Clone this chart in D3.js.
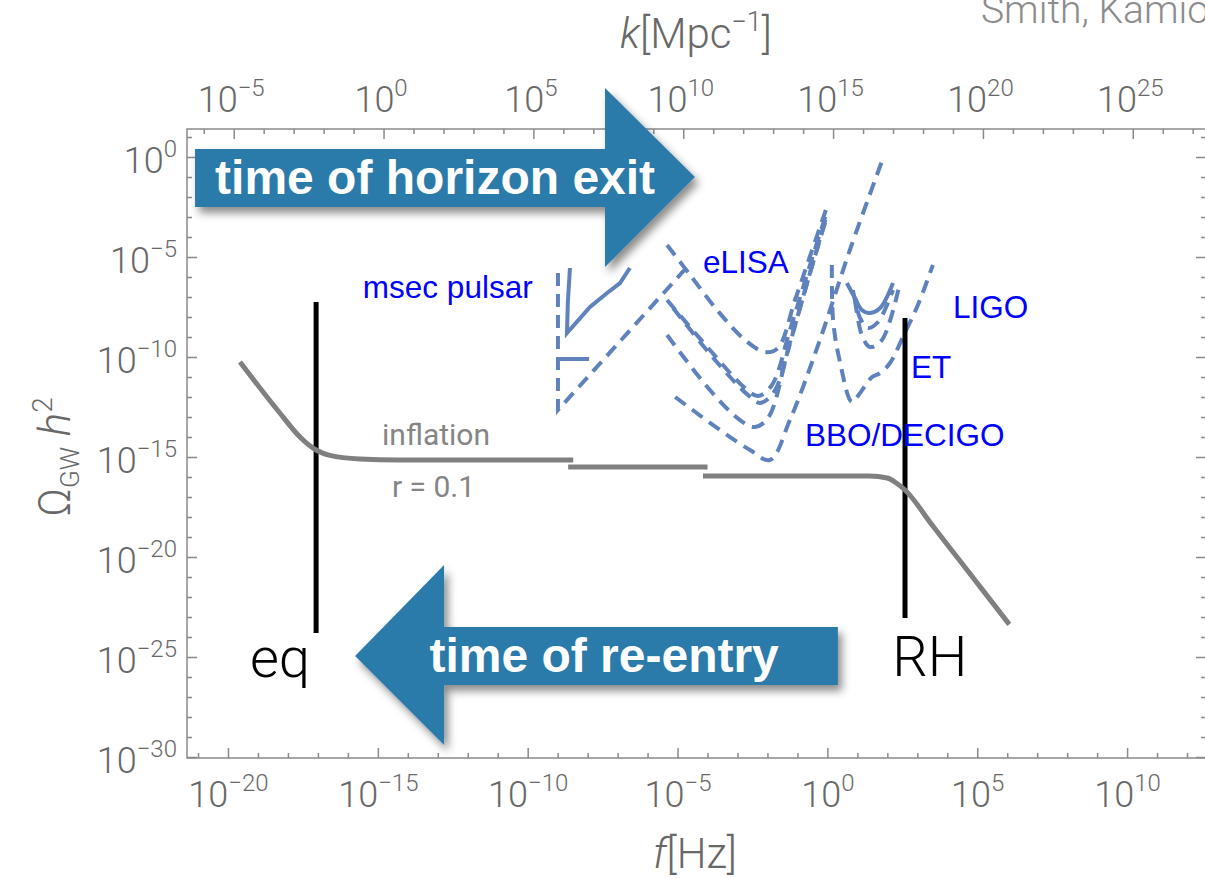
<!DOCTYPE html>
<html>
<head>
<meta charset="utf-8">
<script src="https://cdnjs.cloudflare.com/ajax/libs/d3/7.8.5/d3.min.js"></script>
<style>
  body { margin: 0; background: #fff; }
  svg text { font-family: "Liberation Sans", Arial, Helvetica, sans-serif; }
  svg text.thin { font-family: Roboto, "Liberation Sans", Arial, sans-serif; font-weight: 300; }
  svg text.plain { font-family: Roboto, "Liberation Sans", Arial, sans-serif; font-weight: 400; }
</style>
</head>
<body>
<svg id="chart" width="1205" height="878"></svg>
<script>
// all values are log10 exponents: [log10 f/Hz, log10 Omega_GW h^2]
var fMajor = [-20, -15, -10, -5, 0, 5, 10];
var kMajor = [-5, 0, 5, 10, 15, 20, 25];
var omegaMajor = [-30, -25, -20, -15, -10, -5, 0];

// inflation spectrum, r = 0.1 (three pieces)
var inflationLow = [[-19.6, -10.25], [-18.27, -12.8], [-17.6, -14.0], [-17.06, -14.65], [-16.6, -14.92],
  [-15.6, -15.1], [-14.3, -15.15], [-8.48, -15.15]];
var inflationMid = [[-8.65, -15.5], [-4.0, -15.5]];
var inflationHigh = [[-4.15, -15.95], [1.4, -15.95], [2.0, -16.05], [2.3, -16.3], [2.59, -16.65], [3.5, -18.41],
  [4.5, -20.34], [5.5, -22.27], [6.07, -23.37]];

// sensitivity curves
var ptaDashed = [[-8.99, -5.8], [-8.99, -12.65], [-4.68, -5.5]];
var ptaSolid = [[-8.59, -5.55], [-8.66, -7.25], [-8.69, -8.8], [-7.92, -7.5], [-7.35, -6.8], [-6.92, -6.3], [-6.59, -5.55]];
var ptaLevel = [[-9.02, -10.1], [-7.95, -10.1]];
var elisa = [[-5.35, -4.4], [-4.58, -5.9], [-3.68, -7.65], [-2.75, -9.15], [-2.08, -9.75], [-1.65, -9.55],
  [-1.08, -7.15], [-0.51, -4.65], [-0.05, -2.65]];
var spaceB = [[-5.35, -7.15], [-3.92, -9.65], [-2.75, -11.55], [-2.32, -11.95], [-1.85, -11.4], [-1.25, -8.65],
  [-0.58, -5.4], [-0.05, -2.9]];
var spaceC = [[-5.15, -7.55], [-3.75, -10.15], [-2.65, -11.9], [-2.25, -12.3], [-1.78, -11.75], [-1.18, -8.9],
  [-0.55, -5.65], [-0.05, -3.05]];
var spaceD = [[-5.35, -8.9], [-3.92, -11.65], [-2.92, -13.15], [-2.42, -13.5], [-1.98, -13.05], [-1.31, -9.65],
  [-0.65, -6.15], [-0.05, -3.15]];
var bboDecigo = [[-5.08, -12.0], [-3.58, -13.65], [-2.58, -14.65], [-1.92, -15.15], [-1.25, -13.15], [-0.25, -9.15],
  [0.75, -4.65], [1.86, -0.05]];
var et = [[0.15, -5.4], [0.19, -8.15], [0.42, -10.25], [0.82, -12.25], [1.09, -11.8], [1.49, -11.0], [1.76, -10.8],
  [2.09, -10.3], [2.52, -9.0], [3.02, -7.4], [3.52, -5.4]];
var ligoSolid = [[0.65, -6.3], [0.92, -7.05], [1.15, -7.65], [1.42, -7.8], [1.76, -7.55], [2.19, -6.3]];
var ligoA = [[0.85, -6.65], [1.09, -8.05], [1.35, -8.55], [1.69, -8.25], [2.19, -6.65]];
var ligoB = [[0.92, -7.15], [1.15, -8.9], [1.42, -9.5], [1.82, -9.15], [2.42, -6.3]];

// horizon crossing at matter-radiation equality and at reheating
var eqLine = [[-17.06, -7.25], [-17.06, -23.8]];
var rhLine = [[2.59, -8.05], [2.59, -23.05]];

// big arrows, outlines in the same log units
var exitArrow = [[-21.1, 0.4], [-7.42, 0.4], [-7.42, 3.45], [-4.42, -1.0], [-7.42, -5.5], [-7.42, -2.5], [-21.1, -2.5]];
var entryArrow = [[0.35, -23.5], [-12.79, -23.5], [-12.79, -20.4], [-15.76, -24.95], [-12.79, -29.4], [-12.79, -26.4], [0.35, -26.4]];

var blueNotes = [[-15.5, -7.05, "msec pulsar"], [-4.15, -5.8, "eLISA"], [4.19, -8.05, "LIGO"],
  [2.79, -11.05, "ET"], [-0.75, -14.45, "BBO/DECIGO"]];
var grayNotes = [[-14.86, -14.4, "inflation"], [-14.53, -17.0, "r = 0.1"]];
var blackNotes = [[-19.27, -26.0, "eq"], [2.16, -25.95, "RH"]];
var arrowNotes = [[-13.09, -1.85, "time of horizon exit"], [-7.45, -25.75, "time of re-entry"]];

var kShift = 14.81; // log10 k[Mpc^-1] - log10 f[Hz]

var svg = d3.select("#chart");
var plotL = 187, plotR = 1206, plotT = 129, plotB = 758;
var axisGray = "#8a8a8a", labelGray = "#686868";

var x = d3.scaleLinear().domain([-21.368, 12.633]).range([plotL, plotR]);
var y = d3.scaleLinear().domain([-30.05, 1.4]).range([plotB, plotT]);
var xk = d3.scaleLinear().domain(x.domain().map(function(d) { return d + kShift; })).range([plotL, plotR]);

var defs = svg.append("defs");
defs.append("filter").attr("id", "shadow").attr("x", "-10%").attr("y", "-10%").attr("width", "130%").attr("height", "140%")
  .append("feDropShadow").attr("dx", 4).attr("dy", 6).attr("stdDeviation", 4)
  .attr("flood-color", "#000").attr("flood-opacity", 0.45);

function expText(d) { return d < 0 ? "\u2212" + Math.abs(d) : String(d); }
function range(a, b) { var r = []; for (var i = a; i <= b; i++) r.push(i); return r; }

function ticks(make, scale, majors, pos) {
  var lo = Math.ceil(scale.domain()[0]), hi = Math.floor(scale.domain()[1]);
  var minors = range(lo, hi).filter(function(d) { return majors.indexOf(d) < 0; });
  var gMin = svg.append("g").attr("transform", pos)
    .call(make(scale).tickValues(minors).tickSize(-5).tickFormat(""));
  var gMaj = svg.append("g").attr("transform", pos)
    .call(make(scale).tickValues(majors).tickSize(-10).tickFormat(""));
  [gMin, gMaj].forEach(function(g) {
    g.select(".domain").remove();
    g.selectAll("line").attr("stroke", axisGray).attr("stroke-width", 1.5);
  });
  return gMaj;
}

function powerLabels(g, ax, ay, anchor) {
  g.selectAll(".tick text").each(function(d) {
    var t = d3.select(this);
    t.text(null).attr("class", "thin").attr("x", ax).attr("y", ay).attr("dy", null)
      .attr("text-anchor", anchor).attr("fill", labelGray).attr("font-size", 36);
    t.append("tspan").text("10");
    t.append("tspan").attr("dy", -16).attr("font-size", 24).text(expText(d));
  });
}

// frame
svg.append("rect").attr("x", plotL).attr("y", plotT).attr("width", plotR - plotL).attr("height", plotB - plotT)
  .attr("fill", "none").attr("stroke", axisGray).attr("stroke-width", 1.5);

var gB = ticks(d3.axisBottom, x, fMajor, "translate(0," + plotB + ")");
powerLabels(gB, 0, 49, "middle");
var gT = ticks(d3.axisTop, xk, kMajor, "translate(0," + plotT + ")");
powerLabels(gT, -3, -17, "middle");
var gL = ticks(d3.axisLeft, y, omegaMajor, "translate(" + plotL + ",0)");
powerLabels(gL, -10, 15, "end");
ticks(d3.axisRight, y, omegaMajor, "translate(" + plotR + ",0)");

// axis titles
var tt = svg.append("text").attr("class", "thin").attr("x", 696).attr("y", 48).attr("text-anchor", "middle")
  .attr("fill", labelGray).attr("font-size", 42);
tt.append("tspan").attr("font-style", "italic").text("k");
tt.append("tspan").text("[Mpc");
tt.append("tspan").attr("dy", -17).attr("font-size", 27).text("\u22121");
tt.append("tspan").attr("dy", 17).text("]");

var bt = svg.append("text").attr("class", "thin").attr("x", 695).attr("y", 868).attr("text-anchor", "middle")
  .attr("fill", labelGray).attr("font-size", 42);
bt.append("tspan").attr("font-style", "italic").text("f");
bt.append("tspan").text("[Hz]");

var yt = svg.append("text").attr("class", "thin").attr("transform", "translate(70,457) rotate(-90)").attr("text-anchor", "middle")
  .attr("fill", labelGray).attr("font-size", 44);
yt.append("tspan").text("\u03a9");
yt.append("tspan").attr("dy", 9).attr("font-size", 26).text("GW");
yt.append("tspan").attr("dy", -9).text(" ");
yt.append("tspan").attr("font-style", "italic").text("h");
yt.append("tspan").attr("dy", -18).attr("font-size", 28).text("2");

svg.append("text").attr("class", "thin").attr("x", 981).attr("y", 23).attr("fill", "#8c8c8c")
  .attr("font-size", 39).text("Smith, Kamionkowski");

// curves
var straight = d3.line().x(function(d) { return x(d[0]); }).y(function(d) { return y(d[1]); });
var smooth = d3.line().x(function(d) { return x(d[0]); }).y(function(d) { return y(d[1]); }).curve(d3.curveCatmullRom.alpha(0.5));
var monotone = d3.line().x(function(d) { return x(d[0]); }).y(function(d) { return y(d[1]); }).curve(d3.curveMonotoneX);

var sensBlue = "#5f82bd";
[elisa, spaceB, spaceC, spaceD, bboDecigo, et, ligoA, ligoB].forEach(function(c) {
  svg.append("path").attr("d", smooth(c)).attr("fill", "none").attr("stroke", sensBlue)
    .attr("stroke-width", 4).attr("stroke-dasharray", "13,8");
});
svg.append("path").attr("d", straight(ptaDashed)).attr("fill", "none").attr("stroke", sensBlue)
  .attr("stroke-width", 4).attr("stroke-dasharray", "13,8");
[ptaSolid, ptaLevel].forEach(function(c) {
  svg.append("path").attr("d", straight(c)).attr("fill", "none").attr("stroke", sensBlue).attr("stroke-width", 4);
});
svg.append("path").attr("d", smooth(ligoSolid)).attr("fill", "none").attr("stroke", sensBlue).attr("stroke-width", 4);

[eqLine, rhLine].forEach(function(c) {
  svg.append("path").attr("d", straight(c)).attr("stroke", "#000").attr("stroke-width", 5);
});

[inflationLow, inflationMid, inflationHigh].forEach(function(c) {
  svg.append("path").attr("d", monotone(c)).attr("fill", "none").attr("stroke", "#808080").attr("stroke-width", 5);
});

// arrows
[exitArrow, entryArrow].forEach(function(a) {
  svg.append("path").attr("d", straight(a) + "Z").attr("fill", "#2c7aaa").attr("filter", "url(#shadow)");
});

// labels
function notes(list, color, size, weight, anchor, cls) {
  svg.selectAll(null).data(list).enter().append("text")
    .attr("class", cls)
    .attr("x", function(d) { return x(d[0]); })
    .attr("y", function(d) { return y(d[1]); })
    .attr("fill", color).attr("font-size", size).attr("font-weight", weight)
    .attr("text-anchor", anchor)
    .text(function(d) { return d[2]; });
}
notes(blueNotes, "#0000ff", 31.5, null, "start", null);
notes(grayNotes, "#858585", 30, null, "start", "plain");
notes(blackNotes, "#000", 56, null, "start", "thin");
notes(arrowNotes, "#fff", 48, "bold", "middle", null);
</script>
</body>
</html>
